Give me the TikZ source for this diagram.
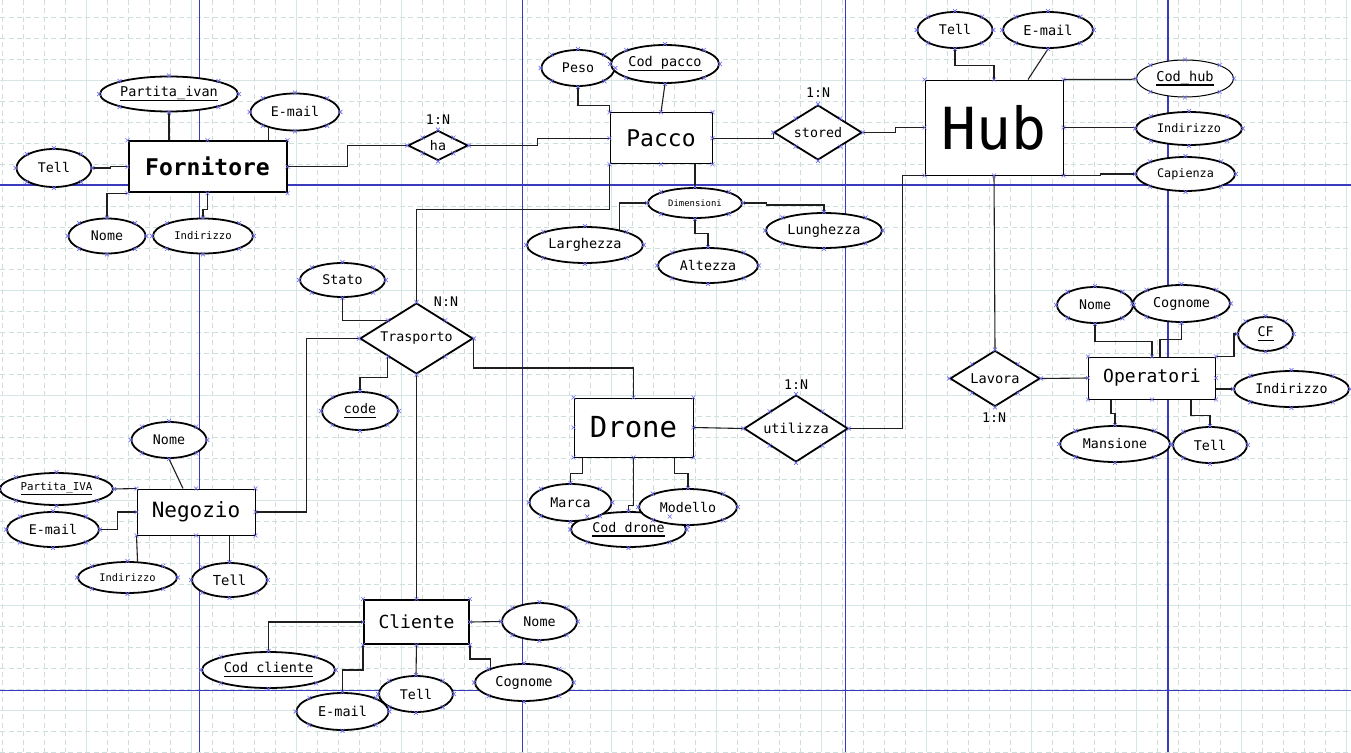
\documentclass[tikz,border=0pt]{standalone}
\usepackage{fontspec}
\newfontfamily\erfont{DejaVu Sans Mono}
\usetikzlibrary{shapes.geometric}
\definecolor{gridd}{RGB}{204,222,222}
\definecolor{grids}{RGB}{214,229,229}
\definecolor{pageblue}{RGB}{58,58,188}
\definecolor{hmk}{RGB}{110,110,240}
\newsavebox\ulbox
\newcommand\ulk[1]{\sbox\ulbox{#1}\rlap{\rule[-4.6pt]{\wd\ulbox}{1.7pt}}\usebox\ulbox}
\newcommand\fs[1]{\fontsize{#1}{#1}\selectfont}
\pgfdeclarelayer{gridlayer}
\pgfdeclarelayer{lines}
\pgfsetlayers{gridlayer,lines,main}
\begin{document}
\begin{tikzpicture}[x=1pt,y=-1pt,
 sz/.style 2 args={minimum width=#1pt,minimum height=#2pt},
 attr/.style={ellipse,draw,line width=1.8pt,fill=white,inner sep=0pt,font=\erfont\fs{13.3}},
 ent/.style={rectangle,draw,line width=1pt,fill=white,inner sep=0pt},
 entb/.style={ent,line width=2pt},
 rel/.style={diamond,aspect=2,draw,line width=1.8pt,fill=white,inner sep=0pt,font=\erfont\fs{13.3}},
 card/.style={inner sep=0pt,font=\erfont\fs{13.3}},
 conn/.style={line width=1.1pt,draw=black!88},
 gdash/.style={draw=gridd,line width=0.8pt,dash pattern=on 5pt off 3.5pt},
 gsolid/.style={draw=grids,line width=1pt},
 pline/.style={draw=pageblue,line width=1.4pt},
 hmark/.style={draw=hmk,line width=0.6pt}]
\useasboundingbox (0,0) rectangle (1351,752);
\begin{pgfonlayer}{gridlayer}
\fill[white] (0,0) rectangle (1351,752);
\foreach \k in {-4,...,60} \draw[gdash] ({86.7+21*\k},0) -- ({86.7+21*\k},752);
\foreach \k in {-3,...,32} \draw[gdash] (0,{80+21*\k}) -- (1351,{80+21*\k});
\foreach \k in {0,5,...,60} \draw[gsolid] ({86.7+21*\k},0) -- ({86.7+21*\k},752);
\foreach \k in {0,5,...,30} \draw[gsolid] (0,{80+21*\k}) -- (1351,{80+21*\k});
\foreach \x in {199.5,522.7,845.3,1167.8} \draw[pline] (\x,0) -- (\x,752);
\foreach \y in {184.8,690.5} \draw[pline] (0,\y) -- (1351,\y);
\end{pgfonlayer}

% Fornitore
\node[entb,sz={158}{51},font=\erfont\bfseries\fs{23}] (forn) at (207.5,166.7) {Fornitore};
\node[attr,sz={138}{35},font=\erfont\fs{13.5}] (pivf) at (169,94) {\ulk{Partita\_ivan}};
\node[attr,sz={89}{37}] (emf) at (295,112) {E-mail};
\node[attr,sz={75}{38}] (tellf) at (54,168) {Tell};
\node[attr,sz={77}{35}] (nomef) at (107,236) {Nome};
\node[attr,sz={100}{35},font=\erfont\fs{10.6}] (indf) at (203,236) {Indirizzo};
\node[rel,sz={60}{30}] (ha) at (438,145.5) {ha};
% Pacco
\node[ent,sz={102}{51},font=\erfont\fs{23}] (pacco) at (661,138.3) {Pacco};
\node[attr,sz={73}{36}] (peso) at (578,68) {Peso};
\node[attr,sz={108}{38},font=\erfont\fs{13.5}] (codp) at (665,64) {\ulk{Cod pacco}};
\node[rel,sz={88}{55}] (stored) at (818,132.5) {stored};
\node[attr,sz={94}{30},font=\erfont\fs{8.9}] (dim) at (695,203) {Dimensioni};
\node[attr,sz={116}{36},font=\erfont\fs{13.5}] (larg) at (585,245) {Larghezza};
\node[attr,sz={100}{35}] (alt) at (708,265.5) {Altezza};
\node[attr,sz={116}{35},font=\erfont\fs{13.5}] (lung) at (824,230.5) {Lunghezza};
% Hub
\node[ent,sz={138}{95},font=\erfont\fs{58}] (hub) at (994,127.5) {Hub};
\node[attr,sz={75}{36}] (tellh) at (955,30) {Tell};
\node[attr,sz={90}{36},font=\erfont\fs{13.6}] (emh) at (1048,30) {E-mail};
\node[attr,line width=1pt,sz={97}{37},font=\erfont\fs{13.6}] (codh) at (1185,78.5) {\ulk{Cod\_hub}};
\node[attr,sz={106}{33},font=\erfont\fs{11.8}] (indh) at (1189,128.5) {Indirizzo};
\node[attr,sz={99}{34},font=\erfont\fs{11.8}] (cap) at (1185.5,174) {Capienza};
% Trasporto
\node[rel,sz={113}{71}] (trasp) at (416.5,338.5) {Trasporto};
\node[attr,sz={85}{34}] (stato) at (342.5,280) {Stato};
\node[attr,sz={76}{38}] (code) at (360,411) {\ulk{code}};
% Drone
\node[ent,sz={119}{59},font=\erfont\fs{29}] (drone) at (633.5,427.5) {Drone};
\node[rel,sz={104}{67},font=\erfont\fs{13.6}] (util) at (796,428.5) {utilizza};
\node[attr,sz={115}{35}] (codd) at (628.5,529.5) {\ulk{Cod drone}};
\node[attr,sz={82}{37}] (marca) at (570.5,502.5) {Marca};
\node[attr,sz={98}{36}] (mod) at (688,507) {Modello};
% Negozio
\node[ent,sz={118}{46},font=\erfont\fs{21}] (neg) at (196,512) {Negozio};
\node[attr,sz={75}{36}] (nomen) at (169,440) {Nome};
\node[attr,sz={113}{32},font=\erfont\fs{10.8}] (pivn) at (56.5,489) {\ulk{Partita\_IVA}};
\node[attr,sz={92}{35}] (emn) at (53,529.5) {E-mail};
\node[attr,sz={99}{31},font=\erfont\fs{10.4}] (indn) at (127.5,577.5) {Indirizzo};
\node[attr,sz={75}{34},font=\erfont\fs{13.8}] (telln) at (229.5,580) {Tell};
% Cliente
\node[entb,sz={105}{44},font=\erfont\fs{18}] (cli) at (416.5,622) {Cliente};
\node[attr,sz={75}{37}] (nomec) at (539.5,621.5) {Nome};
\node[attr,sz={133}{36},font=\erfont\fs{13.5}] (codc) at (268.5,670) {\ulk{Cod cliente}};
\node[attr,sz={92}{37},font=\erfont\fs{13.5}] (emc) at (342.5,711.5) {E-mail};
\node[attr,sz={74}{36}] (tellc) at (416,694) {Tell};
\node[attr,sz={98}{37},font=\erfont\fs{13.6}] (cogc) at (524,682.5) {Cognome};
% Operatori
\node[rel,sz={90}{56},font=\erfont\fs{13.6}] (lav) at (995,378.5) {Lavora};
\node[ent,sz={127}{42},font=\erfont\fs{18}] (op) at (1152,378) {Operatori};
\node[attr,sz={76}{36}] (nomeo) at (1095,305) {Nome};
\node[attr,sz={97}{37},font=\erfont\fs{13.5}] (cogo) at (1181.5,303.5) {Cognome};
\node[attr,sz={55}{34}] (cf) at (1265.5,334) {\ulk{CF}};
\node[attr,sz={115}{36}] (indo) at (1291.5,389) {Indirizzo};
\node[attr,sz={110}{36}] (mans) at (1115,444) {Mansione};
\node[attr,sz={74}{36},font=\erfont\fs{13.4}] (tello) at (1210,445) {Tell};
% cardinalities
\node[card] (c1) at (438,120) {1:N};
\node[card] (c2) at (818,93) {1:N};
\node[card] (c3) at (446,302) {N:N};
\node[card] (c4) at (796,385) {1:N};
\node[card] (c5) at (994,418) {1:N};

\begin{pgfonlayer}{lines}
\begin{scope}[conn]
\draw (pivf.south) -- (pivf.south |- forn.north);
\draw (emf.211) -- (emf.211 |- forn.north);
\draw (tellf.east) -- ++(18,0) |- (forn.west);
\draw (nomef.north) |- (forn.south west);
\draw (indf.north) -- ++(0,-8) -| (forn.south);
\draw (forn.east) -- ++(60,0) |- (ha.west);
\draw (ha.east) -- ++(69,0) |- (pacco.west);
\draw (peso.south) -- ++(0,19) -| (pacco.north west);
\draw (codp.south) -- (pacco.north);
\draw (pacco.east) -- ++(61,0) |- (stored.west);
\draw (stored.east) -- ++(33,0) |- (hub.west);
\draw (dim.north |- pacco.south) -- (dim.north);
\draw (pacco.south west) -- ++(0,45) -| (trasp.north);
\draw (tellh.south) -- ++(0,17) -| (hub.north);
\draw (emh.south) -- ([xshift=34pt]hub.north);
\draw (hub.north east) -- ++(67,0) -- (codh.west);
\draw (hub.east) -- (hub.east -| indh.west);
\draw (hub.south east) -- ++(37,0) |- (cap.west);
\draw (hub.south) -- (lav.north);
\draw (util.east) -- ++(54,0) |- (hub.south west);
\draw (dim.west) -| (larg.24);
\draw (dim.south) -- ++(0,15) -| (alt.north);
\draw (dim.east) -- ++(24,0) -- ++(0,2) -| (lung.north);
\draw (stato.south) |- (trasp.north west);
\draw (trasp.south west) -- ++(0,21) -| (code.north);
\draw (trasp.west) -- ++(-53,0) |- (neg.east);
\draw (trasp.east) -- ++(0,29.5) -| (drone.north);
\draw (trasp.south) -- (cli.north);
\draw (drone.east) -- (util.west);
\draw ([xshift=9pt]drone.south west) -- ++(0,16) -| (marca.north);
\draw (drone.south) -- ++(0,48) -| (codd.north);
\draw ([xshift=-19pt]drone.south east) -- ++(0,16) -| (mod.north);
\draw (nomen.south) -- ([xshift=-13pt]neg.north);
\draw (pivn.east) -- (neg.north west);
\draw (emn.east) -- ++(18,0) |- (neg.west);
\draw (neg.south west) -- (indn.58);
\draw (telln.north |- neg.south) -- (telln.north);
\draw (cli.west) -| (codc.north);
\draw (cli.south west) -- ++(0,25) -| (emc.north);
\draw (cli.south) -- (tellc.north);
\draw (cli.east) -- (nomec.west);
\draw (cli.south east) -- ++(0,14) -| (cogc.157);
\draw (lav.east) -- (op.west);
\draw (nomeo.south) -- ++(0,18) -| (op.north);
\draw (cogo.south) -- ++(0,17) -| ([xshift=8pt]op.north);
\draw (op.north east) -- ++(18,0) |- (cf.west);
\draw ([yshift=-11pt]op.east) -- (indo.west);
\draw ([xshift=-41pt]op.south) -- ++(0,14) -| (mans.north);
\draw ([xshift=39pt]op.south) -- ++(0,16) -| (tello.north);
\end{scope}
\end{pgfonlayer}

% selection handles
\foreach \n in {forn,pivf,emf,tellf,nomef,indf,ha,pacco,peso,codp,stored,dim,larg,alt,lung,hub,tellh,emh,codh,indh,cap,trasp,stato,code,drone,util,codd,marca,mod,neg,nomen,pivn,emn,indn,telln,cli,nomec,codc,emc,tellc,cogc,lav,op,nomeo,cogo,cf,indo,mans,tello}{
  \foreach \a in {north,south,east,west,north east,north west,south east,south west}{
    \draw[hmark] (\n.\a) +(-2,-2) -- +(2,2) +(-2,2) -- +(2,-2);
  }
}
\end{tikzpicture}
\end{document}
